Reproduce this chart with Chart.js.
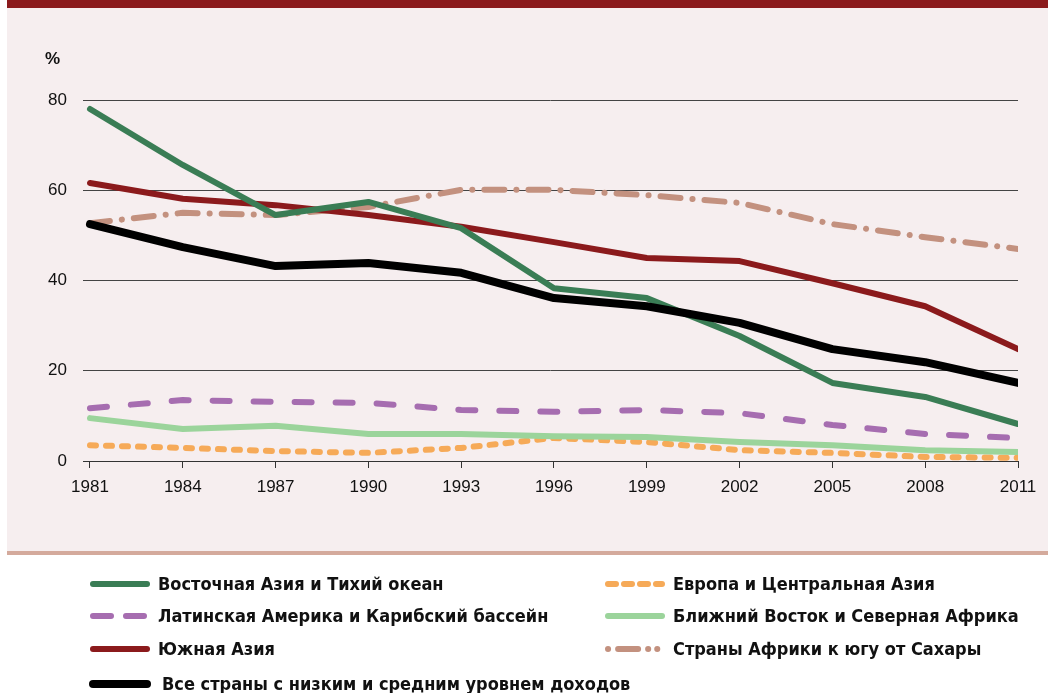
<!DOCTYPE html>
<html><head><meta charset="utf-8">
<script src="https://cdn.jsdelivr.net/npm/chart.js@4/dist/chart.umd.min.js"></script>
<style>html,body{margin:0;padding:0;background:#fff;}canvas{display:block;}</style>
</head><body>
<canvas id="c" width="1048" height="693"></canvas>
<script>
const years = [1981,1984,1987,1990,1993,1996,1999,2002,2005,2008,2011];
const yTicks = [0,20,40,60,80];
const eastAsia    = [78.0,65.6,54.5,57.4,51.6,38.3,36.1,27.7,17.3,14.2,8.2];
const southAsia   = [61.6,58.1,56.7,54.5,51.9,48.5,45.0,44.3,39.4,34.3,24.8];
const subSahara   = [52.7,55.0,54.5,56.3,60.1,60.1,58.9,57.2,52.5,49.6,47.0];
const allCountries= [52.5,47.4,43.2,43.9,41.7,36.1,34.3,30.6,24.8,21.9,17.3];
const latinAm     = [11.7,13.5,13.1,12.9,11.3,10.9,11.3,10.6,8.0,6.0,5.1];
const middleEast  = [9.5,7.1,7.8,6.0,6.0,5.5,5.3,4.2,3.5,2.4,2.0];
const europe      = [3.5,2.9,2.2,1.8,2.9,5.1,4.2,2.4,1.8,0.9,0.7];
const labels = {
  eastAsia:'Восточная Азия и Тихий океан',
  latinAm:'Латинская Америка и Карибский бассейн',
  southAsia:'Южная Азия',
  all:'Все страны с низким и средним уровнем доходов',
  europe:'Европа и Центральная Азия',
  middleEast:'Ближний Восток и Северная Африка',
  subSahara:'Страны Африки к югу от Сахары'
};
const pts = arr => arr.map((v,i)=>({x:years[i],y:v}));
function ds(key,data,color,width,dash,legendDash,order){
  return {label:labels[key],key:key,data:pts(data),borderColor:color,borderWidth:width,borderDash:dash,
    legendDash:legendDash,borderCapStyle:'round',borderJoinStyle:'round',pointRadius:0,tension:0,fill:false,order:order};
}
const datasets = [
  ds('all',allCountries,'#000000',8,[],[],0),
  ds('eastAsia',eastAsia,'#3a7d55',6,[],[],1),
  ds('southAsia',southAsia,'#8b1a1c',6,[],[],2),
  ds('subSahara',subSahara,'#c3917f',6,[20,12,0.1,12],[0.1,10,20,10,0.1,9],3),
  ds('latinAm',latinAm,'#a66db0',6,[17,24],[18,15],4),
  ds('middleEast',middleEast,'#9bd49b',6,[],[],5),
  ds('europe',europe,'#f6aa58',6,[6,10],[8,8],6)
];
const legendLeft = ['eastAsia','latinAm','southAsia','all'];
const legendRight = ['europe','middleEast','subSahara'];
const rowsY = [584,616,649,684];

const decor = {
  id:'decor',
  beforeDraw(chart){
    const ctx = chart.ctx;
    ctx.save();
    ctx.fillStyle='#ffffff'; ctx.fillRect(0,0,1048,693);
    ctx.fillStyle='#f6eeef'; ctx.fillRect(7,8,1041,543);
    ctx.fillStyle='#8b1a1c'; ctx.fillRect(7,0,1041,8);
    ctx.fillStyle='#d4aa9c'; ctx.fillRect(7,551,1041,4);
    ctx.fillStyle='#111'; ctx.font='bold 17px "Liberation Sans", Arial, sans-serif';
    ctx.textBaseline='middle'; ctx.textAlign='left';
    ctx.fillText('%',45,59);
    ctx.restore();
  },
  afterDraw(chart){
    const ctx = chart.ctx;
    ctx.save();
    const byKey = {};
    chart.data.datasets.forEach(d=>byKey[d.key]=d);
    function item(key,x0,y){
      const d = byKey[key];
      ctx.beginPath();
      ctx.strokeStyle=d.borderColor; ctx.lineWidth=d.borderWidth; ctx.lineCap='round';
      ctx.setLineDash(d.legendDash);
      ctx.moveTo(x0+3,y); ctx.lineTo(x0+57,y); ctx.stroke();
      ctx.setLineDash([]);
      ctx.fillStyle='#111';
      ctx.font='bold 18px "Liberation Sans Narrow", "DejaVu Sans Condensed", sans-serif';
      ctx.textBaseline='middle'; ctx.textAlign='left';
      ctx.fillText(d.label,x0+(key==='all'?72:68),y+1);
    }
    legendLeft.forEach((k,i)=>item(k,90,rowsY[i]));
    legendRight.forEach((k,i)=>item(k,605,rowsY[i]));
    ctx.restore();
  }
};

new Chart(document.getElementById('c'),{
  type:'line',
  data:{datasets:datasets},
  options:{
    responsive:false, animation:false, devicePixelRatio:1,
    layout:{padding:{top:100,right:30,left:0,bottom:0}},
    plugins:{legend:{display:false},tooltip:{enabled:false}},
    scales:{
      x:{type:'linear',min:1980.774,max:2011,
        afterBuildTicks(s){s.ticks=years.map(v=>({value:v}));},
        afterFit(s){s.height=232;},
        ticks:{callback:v=>String(v),color:'#111',padding:9,maxRotation:0,autoSkip:false,
          font:{family:'"Liberation Sans", Arial, sans-serif',size:17}},
        grid:{drawOnChartArea:false,drawTicks:true,tickLength:7,color:'#333',lineWidth:1},
        border:{display:true,color:'#333',width:1}},
      y:{min:0,max:80,
        afterBuildTicks(s){s.ticks=yTicks.map(v=>({value:v}));},
        afterFit(s){s.width=83;},
        ticks:{color:'#111',padding:16,font:{family:'"Liberation Sans", Arial, sans-serif',size:17}},
        grid:{drawTicks:false,color:c=>c.tick&&c.tick.value===0?'rgba(0,0,0,0)':'#444',lineWidth:1},
        border:{display:false}}
    }
  },
  plugins:[decor]
});
</script>
</body></html>
